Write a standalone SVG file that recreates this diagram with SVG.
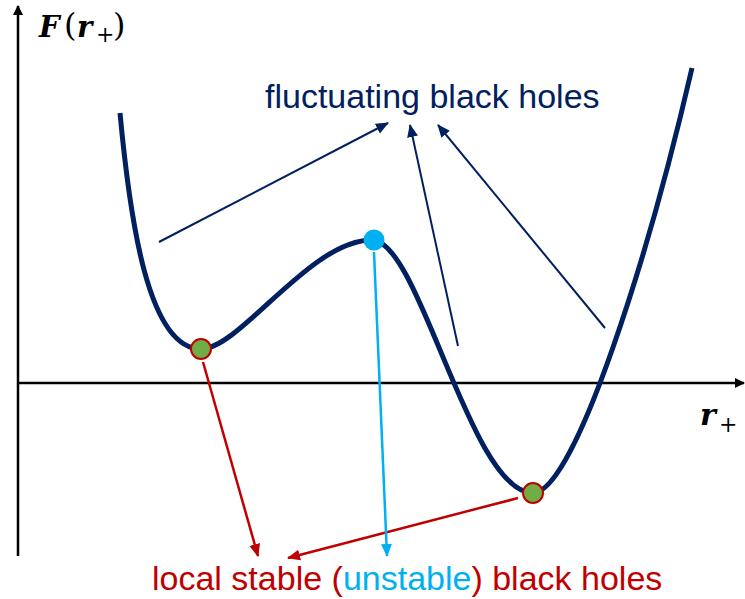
<svg xmlns="http://www.w3.org/2000/svg" width="745" height="599" viewBox="0 0 745 599">
<style>
.ax{stroke:#000;stroke-width:2.5;fill:none}
.nv{stroke:#002060;stroke-width:2;fill:none}
.rd{stroke:#c00000;stroke-width:2.5;fill:none}
.bl{stroke:#00b0f0;stroke-width:2.5;fill:none}
.m{font-family:"DejaVu Serif","Liberation Serif",serif;font-weight:bold;font-style:italic}
.up{font-family:"DejaVu Serif","Liberation Serif",serif;font-weight:normal;font-style:normal}
.sans{font-family:"Liberation Sans",Arial,sans-serif}
</style>
<defs>
<marker id="ak" markerWidth="10" markerHeight="10" refX="9" refY="5" orient="auto" markerUnits="userSpaceOnUse"><path d="M0,0 L10,5 L0,10 z" fill="#000"/></marker>
<marker id="an" markerWidth="13" markerHeight="12" refX="12" refY="6" orient="auto" markerUnits="userSpaceOnUse"><path d="M0,0.5 L13,6 L0,11.5 z" fill="#002060"/></marker>
<marker id="ar" markerWidth="13" markerHeight="12" refX="12" refY="6" orient="auto" markerUnits="userSpaceOnUse"><path d="M0,0.5 L13,6 L0,11.5 z" fill="#c00000"/></marker>
<marker id="ab" markerWidth="13" markerHeight="12" refX="12" refY="6" orient="auto" markerUnits="userSpaceOnUse"><path d="M0,0.5 L13,6 L0,11.5 z" fill="#00b0f0"/></marker>
</defs>
<g id="axes">
<line class="ax" x1="18" y1="556" x2="18" y2="6" marker-end="url(#ak)"/>
<line class="ax" x1="17" y1="383" x2="744" y2="383" marker-end="url(#ak)"/>
<text font-size="29"><tspan class="m" x="39" y="37">F</tspan><tspan class="up" x="64" y="36" font-size="32">(</tspan><tspan class="m" x="77" y="37">r</tspan><tspan class="up" x="96" y="42" font-size="22">+</tspan><tspan class="up" x="113" y="36" font-size="32">)</tspan></text>
<text font-size="30"><tspan class="m" x="700" y="425">r</tspan><tspan class="up" x="719" y="432" font-size="22">+</tspan></text>
</g>
<g id="curve">
<path d="M120,113 C130,220 148,349 201,349 C240,349 310,240 372,240 C420,240 470,493 533,493 C575,493 650,250 692,68" stroke="#002060" stroke-width="5" fill="none"/>
</g>
<g id="connectors">
<line class="nv" x1="159" y1="242" x2="388" y2="123" marker-end="url(#an)"/>
<line class="nv" x1="458" y1="346" x2="410" y2="125" marker-end="url(#an)"/>
<line class="nv" x1="605" y1="328" x2="438" y2="125" marker-end="url(#an)"/>
<line class="rd" x1="203" y1="362" x2="258" y2="556" marker-end="url(#ar)"/>
<line class="rd" x1="518" y1="498" x2="288" y2="558" marker-end="url(#ar)"/>
<line class="bl" x1="374" y1="252" x2="387" y2="556" marker-end="url(#ab)"/>
</g>
<g id="point-min1"><circle cx="201" cy="349" r="10" fill="#70ad47" stroke="#c00000" stroke-width="2"/></g>
<g id="point-max"><circle cx="374" cy="240" r="10.5" fill="#00b0f0"/></g>
<g id="point-min2"><circle cx="533" cy="493" r="10" fill="#70ad47" stroke="#c00000" stroke-width="2"/></g>
<g id="label-fluct"><text class="sans" x="265" y="108" font-size="34" fill="#002060">fluctuating black holes</text></g>
<g id="label-stable"><text class="sans" x="152" y="590" font-size="34" fill="#c00000">local stable (<tspan fill="#00b0f0">unstable</tspan>) black holes</text></g>
</svg>
